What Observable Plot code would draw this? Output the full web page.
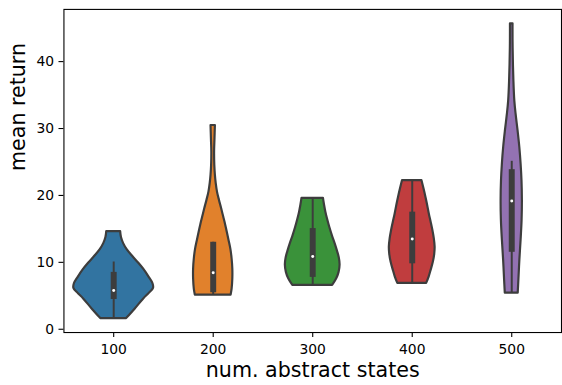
<!DOCTYPE html>
<html><head><meta charset="utf-8">
<script src="https://cdn.jsdelivr.net/npm/d3@7"></script>
<script src="https://cdn.jsdelivr.net/npm/@observablehq/plot@0.6"></script>
<style>
html,body{margin:0;padding:0;overflow:hidden;background:#fff;}
svg{display:block}
</style></head><body><div id="chart"></div>
<script>
// categories and colours
const categories = ["100", "200", "300", "400", "500"];
const colors = ["#3274a1", "#e1812c", "#3a923a", "#c03d3e", "#9372b2"];

// violin outlines: [mean return, half width (in category units)]
const violin100 = [[1.6,0.13],[3.0,0.215],[4.5,0.30],[5.4,0.36],[6.1,0.40],[6.8,0.395],[7.8,0.355],[8.9,0.305],[9.9,0.25],[10.9,0.19],[11.9,0.135],[12.8,0.10],[13.7,0.078],[14.6,0.07]];
const violin200 = [[5.1,0.18],[6.0,0.19],[7.5,0.197],[9.0,0.197],[10.5,0.19],[11.9,0.178],[13.2,0.16],[14.4,0.143],[15.6,0.125],[16.8,0.105],[18.0,0.085],[19.3,0.062],[20.5,0.043],[21.8,0.03],[23.0,0.022],[24.5,0.016],[26.5,0.014],[28.5,0.018],[30.45,0.022]];
const violin300 = [[6.55,0.20],[7.5,0.24],[8.5,0.265],[9.6,0.275],[10.6,0.268],[11.6,0.25],[12.8,0.225],[14.0,0.197],[15.2,0.172],[16.4,0.15],[17.5,0.132],[18.6,0.118],[19.55,0.108]];
const violin400 = [[6.85,0.145],[7.8,0.17],[8.8,0.19],[10.0,0.212],[11.2,0.226],[12.3,0.23],[13.5,0.222],[14.8,0.207],[16.0,0.19],[17.2,0.172],[18.5,0.155],[19.7,0.138],[21.0,0.118],[22.2,0.098]];
const violin500 = [[5.4,0.065],[7.4,0.072],[10.4,0.082],[13.3,0.094],[16.3,0.104],[19.26,0.107],[22.2,0.103],[24.7,0.094],[27.2,0.081],[29.6,0.064],[32.1,0.044],[34.1,0.031],[37.0,0.022],[42.0,0.014],[45.65,0.013]];

// inner box statistics
const whiskerLow  = [1.6, 5.1, 6.55, 6.85, 5.4];
const whiskerHigh = [10.05, 13.0, 19.55, 22.2, 25.1];
const q1 = [4.45, 5.45, 7.75, 9.78, 11.5];
const q3 = [8.5, 13.0, 15.05, 17.5, 23.85];
const medians = [5.8, 8.45, 10.87, 13.48, 19.17];

const yTicks = [0, 10, 20, 30, 40];
const xLabel = "num. abstract states";
const yLabel = "mean return";

const violins = [violin100, violin200, violin300, violin400, violin500];
const rows = violins.flatMap((v, i) => v.map(([y, w]) => ({i, cat: categories[i], y, w})));
const boxes = categories.map((cat, i) => ({i, cat, lo: whiskerLow[i], hi: whiskerHigh[i], q1: q1[i], q3: q3[i], med: medians[i]}));

const gray = "#3d3d3d";
const plot = Plot.plot({
  width: 567, height: 385,
  marginLeft: 64, marginRight: 1, marginTop: 9, marginBottom: 50,
  style: {fontFamily: "DejaVu Sans", fontSize: "14px", color: "#000", background: "#fff"},
  x: {domain: [-0.5, 4.5]},
  y: {domain: [-0.49, 47.8]},
  color: {domain: categories, range: colors},
  marks: [
    Plot.areaX(rows, {y: "y", x1: d => d.i - d.w, x2: d => d.i + d.w, z: "cat", fill: "cat", stroke: gray, strokeWidth: 2.2, curve: "catmull-rom"}),
    Plot.ruleX(boxes, {x: "i", y1: "lo", y2: "hi", stroke: gray, strokeWidth: 2}),
    Plot.ruleX(boxes, {x: "i", y1: "q1", y2: "q3", stroke: gray, strokeWidth: 6}),
    Plot.dot(boxes, {x: "i", y: "med", r: 1.5, fill: "#fff", stroke: null}),
    Plot.frame({stroke: "#000", strokeWidth: 1.1}),
    Plot.axisX([0, 1, 2, 3, 4], {tickFormat: i => categories[i], tickSize: 5, tickPadding: 7, fontSize: 14, label: null, strokeWidth: 1.1}),
    Plot.axisY(yTicks, {tickSize: 5, tickPadding: 5, fontSize: 14, label: null, strokeWidth: 1.1}),
    Plot.text([xLabel], {text: d => d, frameAnchor: "bottom", dy: 44.5, lineAnchor: "bottom", fontSize: 20.8}),
    Plot.text([yLabel], {text: d => d, frameAnchor: "left", dx: -39, rotate: -90, lineAnchor: "bottom", fontSize: 20.8})
  ]
});
document.getElementById("chart").appendChild(plot);
</script></body></html>
